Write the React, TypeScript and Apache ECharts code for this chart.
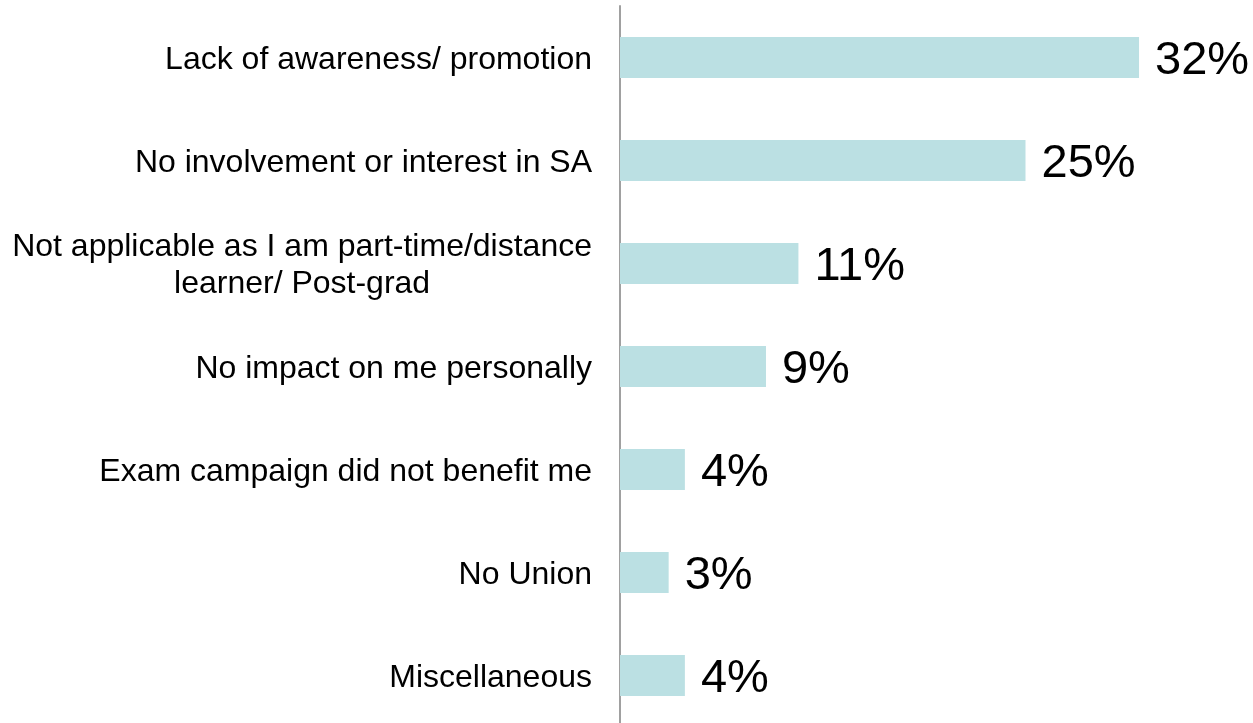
import React, { useEffect, useRef } from "react";
import * as echarts from "echarts";

const categories = [
  "Lack of awareness/ promotion",
  "No involvement or interest in SA",
  "Not applicable as I am part-time/distance\nlearner/ Post-grad",
  "No impact on me personally",
  "Exam campaign did not benefit me",
  "No Union",
  "Miscellaneous",
];
const values = [32, 25, 11, 9, 4, 3, 4];

export default function App() {
  const ref = useRef<HTMLDivElement>(null);
  useEffect(() => {
    if (!ref.current) return;
    const chart = echarts.init(ref.current, undefined, { renderer: "svg" });
    chart.setOption({
      animation: false,
      textStyle: { fontFamily: "Liberation Sans, Arial, sans-serif" },
      grid: { left: 620, top: 6, width: 567.7, bottom: 0, containLabel: false },
      xAxis: {
        type: "value",
        min: 0,
        max: 35,
        show: false,
      },
      yAxis: {
        type: "category",
        data: categories,
        inverse: true,
        axisLine: { show: true, lineStyle: { color: "#a0a0a0", width: 2 } },
        axisTick: { show: false },
        splitLine: { show: false },
        axisLabel: {
          margin: 28,
          fontSize: 32,
          color: "#000",
          lineHeight: 37,
          fontFamily: "Liberation Sans, Arial, sans-serif",
          formatter: (v: string) =>
            v
              .split("\n")
              .map((l) => "{c|" + l + "}")
              .join("\n"),
          rich: {
            c: {
              align: "center",
              fontSize: 32,
              lineHeight: 37,
              color: "#000",
              fontFamily: "Liberation Sans, Arial, sans-serif",
            },
          },
        },
      },
      series: [
        {
          type: "bar",
          data: values,
          barWidth: 41,
          itemStyle: { color: "#bbe0e3" },
          label: {
            show: true,
            position: "right",
            distance: 16,
            formatter: "{c}%",
            fontSize: 47,
            color: "#000",
            fontFamily: "Liberation Sans, Arial, sans-serif",
          },
        },
      ],
    });
    return () => chart.dispose();
  }, []);
  return (
    <div
      ref={ref}
      style={{ position: "fixed", left: 0, top: 0, width: 1253, height: 727 }}
    />
  );
}
